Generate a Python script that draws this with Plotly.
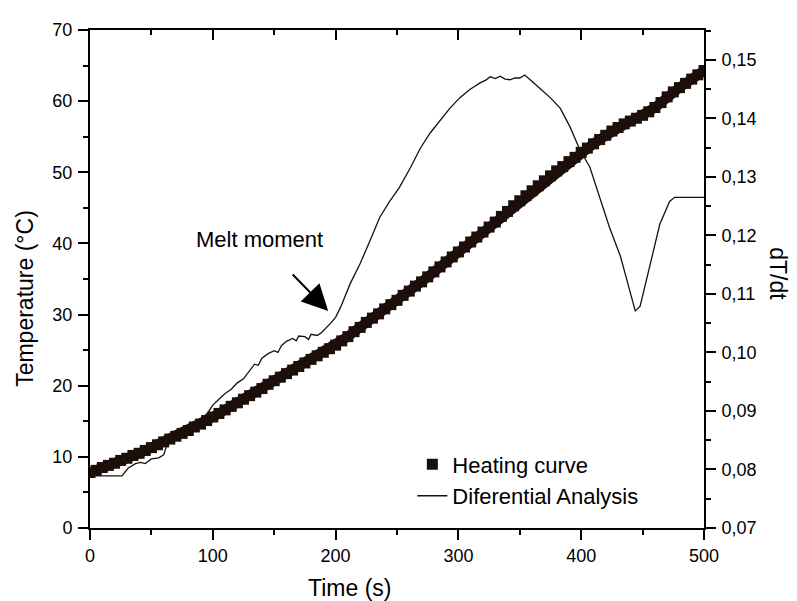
import plotly.graph_objects as go

# ---- Heating curve (Temperature, left axis) ----
heat_time = list(range(0, 501, 5))
heat_temp = [
    7.8, 8.1, 8.5, 8.8, 9.1, 9.5, 9.8, 10.2, 10.5, 10.9,
    11.3, 11.7, 12.1, 12.5, 12.9, 13.3, 13.7, 14.2, 14.6, 15.1,
    15.6, 16.1, 16.6, 17.1, 17.6, 18.1, 18.6, 19.1, 19.6, 20.2,
    20.7, 21.2, 21.7, 22.2, 22.7, 23.2, 23.7, 24.2, 24.7, 25.2,
    25.7, 26.3, 26.9, 27.6, 28.2, 28.9, 29.5, 30.1, 30.8, 31.4,
    32.0, 32.7, 33.3, 34.0, 34.6, 35.3, 36.0, 36.7, 37.4, 38.1,
    38.8, 39.5, 40.2, 40.9, 41.6, 42.3, 43.0, 43.8, 44.5, 45.3,
    46.0, 46.7, 47.4, 48.1, 48.8, 49.5, 50.2, 50.8, 51.5, 52.1,
    52.8, 53.4, 54.0, 54.6, 55.2, 55.8, 56.3, 56.8, 57.2, 57.6,
    58.0, 58.5, 59.1, 59.8, 60.6, 61.3, 61.9, 62.5, 63.1, 63.7,
    64.3,
]

# ---- Differential analysis (dT/dt, right axis) ----
diff_time = [0, 10, 20, 26, 31, 37, 41, 45, 50, 56, 60, 62, 66, 70, 80, 90, 96,
             100, 105, 110, 115, 120, 125, 130, 134, 137, 140, 145, 150, 153,
             156, 160, 165, 168, 170, 175, 178, 180, 185, 188, 190, 196, 200,
             204, 212, 220, 228, 236, 244, 252, 261, 269, 277, 285, 293, 301,
             309, 318, 322, 326, 330, 334, 338, 342, 346, 350, 354, 358, 362,
             366, 375, 383, 391, 399, 407, 415, 423, 432, 440, 444, 448, 456,
             464, 472, 476, 500]
diff_val = [0.0789, 0.0789, 0.0788, 0.0789, 0.0802, 0.0810, 0.0812, 0.0810,
            0.0818, 0.0820, 0.0825, 0.0838, 0.0853, 0.0862, 0.0870, 0.0885,
            0.0897, 0.0910, 0.0920, 0.0930, 0.0937, 0.0948, 0.0955, 0.0968,
            0.0980, 0.0978, 0.0990, 0.0998, 0.1003, 0.1000, 0.1012, 0.1019,
            0.1024, 0.1020, 0.1028, 0.1027, 0.1022, 0.1031, 0.1029, 0.1033,
            0.1037, 0.1050, 0.1060, 0.1077, 0.1118, 0.1152, 0.1191, 0.1231,
            0.1258, 0.1282, 0.1316, 0.1349, 0.1375, 0.1396, 0.1417, 0.1435,
            0.1449, 0.1461, 0.1465, 0.1471, 0.1468, 0.1472, 0.1467, 0.1466,
            0.1469, 0.1469, 0.1474, 0.1467, 0.1460, 0.1452, 0.1435, 0.1417,
            0.1385, 0.1346, 0.1317, 0.1265, 0.1214, 0.1164, 0.1101, 0.1071,
            0.1079, 0.1147, 0.1219, 0.1258, 0.1265, 0.1265]

temp_ticks = [0, 10, 20, 30, 40, 50, 60, 70]
time_ticks = [0, 100, 200, 300, 400, 500]
dtdt_ticks = [0.07, 0.08, 0.09, 0.10, 0.11, 0.12, 0.13, 0.14, 0.15]

INK = "#1c0f0a"
FONT = "Arial, Liberation Sans, sans-serif"

fig = go.Figure()
# thick band underneath the squares so the dense curve looks continuous
fig.add_trace(go.Scatter(
    x=heat_time, y=heat_temp, mode="lines", showlegend=False,
    line=dict(color=INK, width=10), hoverinfo="skip",
    xaxis="x", yaxis="y",
))
fig.add_trace(go.Scatter(
    x=heat_time, y=heat_temp, mode="markers", name="Heating curve",
    marker=dict(symbol="square", size=11, color=INK, line=dict(width=0)),
    xaxis="x", yaxis="y",
))
fig.add_trace(go.Scatter(
    x=diff_time, y=diff_val, mode="lines", name="Diferential Analysis",
    line=dict(color=INK, width=1.3),
    xaxis="x", yaxis="y2",
))
# empty trace to anchor the top mirror axis
fig.add_trace(go.Scatter(x=[], y=[], xaxis="x2", yaxis="y", showlegend=False,
                         hoverinfo="skip"))

axis_common = dict(showline=True, linecolor="black", linewidth=2,
                   showgrid=False, zeroline=False, tickcolor="black",
                   tickwidth=2, ticklen=10,
                   tickfont=dict(family=FONT, size=18, color="black"))

fig.update_layout(
    width=797, height=601,
    margin=dict(l=82, r=101, t=16, b=81),
    paper_bgcolor="white", plot_bgcolor="white",
    separators=", ",
    font=dict(family=FONT, color="black"),
    xaxis=dict(range=[0, 500], tickvals=time_ticks, ticks="outside",
               minor=dict(dtick=50, tick0=0, ticks="outside", ticklen=5,
                          tickwidth=2, tickcolor="black"),
               ticklabelstandoff=0, anchor="y", **axis_common),
    xaxis2=dict(range=[0, 500], tickvals=time_ticks, ticks="inside",
                overlaying="x", side="top", anchor="y", showticklabels=False,
                minor=dict(dtick=50, tick0=0, ticks="inside", ticklen=5,
                           tickwidth=2, tickcolor="black"),
                **axis_common),
    yaxis=dict(range=[0, 70], tickvals=temp_ticks, ticks="outside",
               minor=dict(dtick=5, tick0=0, ticks="outside", ticklen=5,
                          tickwidth=2, tickcolor="black"),
               ticklabelstandoff=2, **axis_common),
    yaxis2=dict(range=[0.07, 0.1551], tickvals=dtdt_ticks, tickformat=".2f",
                ticks="outside", overlaying="y", side="right", anchor="x",
                minor=dict(dtick=0.005, tick0=0.07, ticks="outside", ticklen=5,
                           tickwidth=2, tickcolor="black"),
                ticklabelstandoff=2, **axis_common),
    legend=dict(x=0.525, y=0.17, xanchor="left", yanchor="top",
                bgcolor="rgba(0,0,0,0)", borderwidth=0,
                font=dict(family=FONT, size=22, color="black"),
                tracegroupgap=0),
    showlegend=True,
    annotations=[
        dict(text="Time (s)", xref="paper", yref="paper", x=0.423, y=-0.121,
             xanchor="center", yanchor="middle", showarrow=False,
             font=dict(family=FONT, size=23, color="black")),
        dict(text="Temperature (°C)", xref="paper", yref="paper", x=-0.106,
             y=0.462, xanchor="center", yanchor="middle", textangle=-90,
             showarrow=False, font=dict(family=FONT, size=23, color="black")),
        dict(text="dT/dt", xref="paper", yref="paper", x=1.121, y=0.511,
             xanchor="center", yanchor="middle", textangle=90,
             showarrow=False, font=dict(family=FONT, size=23, color="black")),
        dict(text="Melt moment", xref="x", yref="y", x=138, y=40.6,
             xanchor="center", yanchor="middle", showarrow=False,
             font=dict(family=FONT, size=22, color="black")),
        dict(text="", xref="x", yref="y", x=194, y=30.5, ax=-37, ay=-38,
             showarrow=True, arrowhead=2, arrowsize=2.6, arrowwidth=2,
             arrowcolor="black"),
    ],
)

fig.write_html("out.html")
